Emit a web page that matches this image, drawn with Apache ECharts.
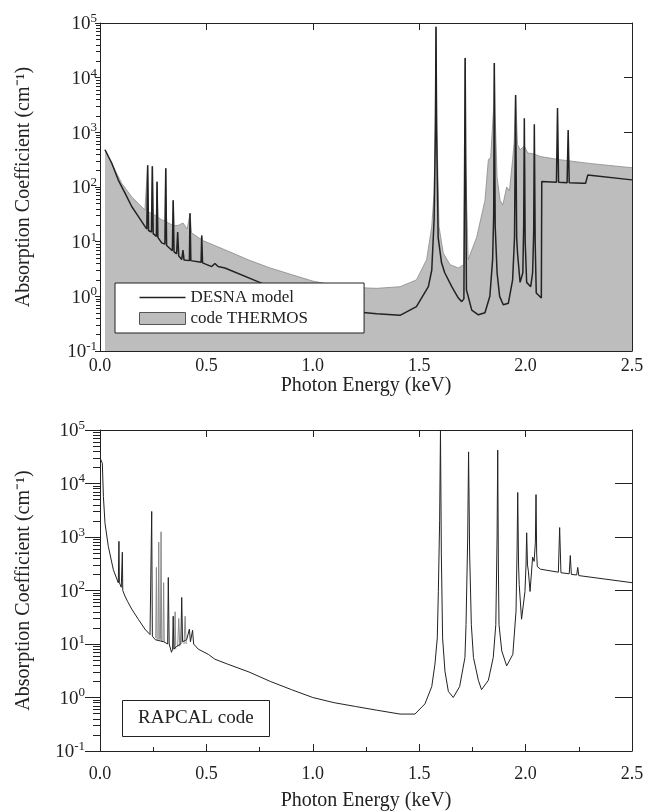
<!DOCTYPE html>
<html>
<head>
<meta charset="utf-8">
<script src="https://cdn.jsdelivr.net/npm/echarts@6/dist/echarts.min.js"></script>
<style>
    html, body { margin: 0; padding: 0; background: #fff; }
    #main { width: 650px; height: 812px; }
</style>
</head>
<body>
<div id="main"></div>
<script>
// top panel, DESNA model (black line)
var desnaE = [0.0235, 0.055, 0.086, 0.117, 0.149, 0.18, 0.211, 0.22, 0.224, 0.228, 0.242, 0.246, 0.25, 0.265, 0.268,
    0.272, 0.29, 0.305, 0.309, 0.313, 0.34, 0.344, 0.348, 0.36, 0.365, 0.37, 0.384, 0.39, 0.395, 0.42, 0.423, 0.427,
    0.475, 0.478, 0.482, 0.525, 0.54, 0.555, 0.587, 0.75, 0.9, 1.0, 1.1, 1.2, 1.3, 1.41, 1.487, 1.543, 1.559, 1.57,
    1.576, 1.579, 1.582, 1.589, 1.605, 1.62, 1.653, 1.684, 1.7, 1.71, 1.716, 1.722, 1.726, 1.747, 1.778, 1.809, 1.832,
    1.845, 1.85, 1.853, 1.857, 1.866, 1.878, 1.895, 1.919, 1.939, 1.948, 1.953, 1.958, 1.962, 1.974, 1.987, 1.991,
    1.994, 1.998, 2.005, 2.024, 2.033, 2.038, 2.041, 2.045, 2.05, 2.074, 2.076, 2.145, 2.15, 2.155, 2.195, 2.2, 2.205,
    2.27, 2.282, 2.292, 2.5];
var desnaK = [480, 275, 134, 78, 44, 29, 19, 17, 250, 16, 15, 240, 14, 12.5, 125,
    12, 9.5, 9, 220, 8.5, 6.8, 57, 6.5, 6, 15, 5.5, 4.7, 7, 4.6, 4.5, 33, 4.5,
    4.2, 13, 4.1, 3.5, 4.0, 3.5, 3.3, 1.8, 1.0, 0.75, 0.6, 0.52, 0.48, 0.45, 0.65, 1.5, 3.0, 25,
    1000, 85000, 1000, 12, 4.1, 2.7, 1.5, 0.93, 0.8, 0.9, 23000, 1.3, 1.15, 0.56, 0.46, 0.5, 1.0,
    4.7, 30, 18500, 20, 2.7, 1.0, 0.7, 0.75, 2.0, 12, 4800, 12, 6.2, 1.8, 2.7, 20,
    1800, 10, 1.8, 1.5, 2.7, 15, 1400, 10, 1.15, 0.93, 126, 122, 2800, 122, 120, 1100, 120,
    117, 117, 165, 135];

// top panel, code THERMOS (grey area)
var thermosE = [0.0235, 0.07, 0.102, 0.149, 0.211, 0.22, 0.224, 0.228, 0.242, 0.246, 0.25, 0.265, 0.268, 0.272, 0.29,
    0.305, 0.309, 0.313, 0.34, 0.344, 0.348, 0.37, 0.39, 0.41, 0.423, 0.43, 0.475, 0.478, 0.482, 0.51, 0.587, 0.7,
    0.8, 0.9, 1.0, 1.1, 1.2, 1.3, 1.41, 1.487, 1.535, 1.559, 1.57, 1.576, 1.579, 1.582, 1.593, 1.613, 1.645, 1.684,
    1.71, 1.714, 1.716, 1.718, 1.73, 1.77, 1.809, 1.825, 1.836, 1.85, 1.853, 1.857, 1.866, 1.88, 1.893, 1.911, 1.924,
    1.939, 1.946, 1.953, 1.962, 1.974, 1.994, 2.01, 2.041, 2.07, 2.16, 2.3, 2.5];
var thermosK = [480, 205, 117, 66, 38, 36, 250, 35, 33, 240, 32, 29, 125, 28, 25,
    24, 220, 23, 20, 57, 19.5, 20, 22, 17, 33, 14.5, 11, 13, 10.5, 9.5, 7.1, 4.6,
    3.3, 2.5, 1.9, 1.6, 1.45, 1.4, 1.5, 2.0, 4.7, 19, 78, 2000, 85000, 2000, 19, 6.2, 3.8, 3.3,
    3.8, 300, 23000, 300, 4.7, 12, 57, 316, 350, 3000, 18500, 2000, 150, 57, 47, 100, 85,
    316, 630, 4800, 600, 480, 560, 420, 400, 360, 316, 270, 225];

// bottom panel, RAPCAL code (black line)
var rapcalE = [0.0, 0.011, 0.016, 0.0235, 0.039, 0.0626, 0.086, 0.088, 0.089, 0.091, 0.1, 0.104, 0.105, 0.107, 0.117,
    0.13, 0.149, 0.18, 0.211, 0.235, 0.24, 0.243, 0.246, 0.26, 0.3, 0.318, 0.321, 0.325, 0.33, 0.336, 0.341, 0.344,
    0.347, 0.36, 0.38, 0.384, 0.388, 0.407, 0.42, 0.425, 0.435, 0.44, 0.462, 0.509, 0.54, 0.6, 0.7, 0.8, 0.9, 1.0,
    1.1, 1.2, 1.3, 1.41, 1.48, 1.527, 1.559, 1.574, 1.585, 1.59, 1.596, 1.6, 1.604, 1.61, 1.621, 1.637, 1.66, 1.69,
    1.715, 1.72, 1.728, 1.732, 1.737, 1.745, 1.755, 1.778, 1.793, 1.825, 1.848, 1.86, 1.866, 1.869, 1.872, 1.875,
    1.888, 1.911, 1.94, 1.955, 1.96, 1.963, 1.967, 1.97, 1.981, 1.997, 2.002, 2.005, 2.009, 2.013, 2.021, 2.033,
    2.04, 2.046, 2.049, 2.052, 2.055, 2.07, 2.154, 2.16, 2.166, 2.205, 2.21, 2.215, 2.24, 2.245, 2.25, 2.5];
var rapcalK = [30000, 24000, 5700, 1800, 670, 245, 139, 150, 830, 140, 115, 110, 520, 100, 79,
    62, 45, 29, 19, 15, 16, 3000, 14, 12, 11, 10, 175, 10, 9.4, 7, 8, 33,
    8, 9, 10, 74, 11, 12, 19, 11, 18, 10, 8, 6.4, 5.2, 4.2, 3.0, 2.0, 1.4, 1.0,
    0.8, 0.68, 0.58, 0.49, 0.49, 0.76, 1.6, 4.2, 13, 96, 2000, 100000, 500, 13, 3.1, 1.3, 1.0, 1.6,
    5.6, 23, 1000, 39000, 500, 23, 5.6, 2.1, 1.4, 2.1, 5.6, 23, 1000, 42000, 300, 23,
    7.4, 3.9, 6.4, 41, 600, 6800, 300, 129, 29, 96, 300, 1200, 300, 230, 96, 420,
    350, 800, 6200, 500, 280, 250, 220, 1500, 215, 205, 450, 200, 195, 270, 190, 140];

// bottom panel, grey lines among the low-energy peaks
var rapcalGreyE = [0.262, 0.265, 0.268, null, 0.273, 0.276, 0.279, null, 0.284, 0.287, 0.29, null, 0.296, 0.299, 0.302,
    null, 0.35, 0.353, 0.356, null, 0.365, 0.37, 0.375, null, 0.395, 0.4, 0.405];
var rapcalGreyK = [13, 270, 12, null, 12, 800, 12, null, 12, 1250, 11, null, 11, 140, 11,
    null, 8, 40, 8, null, 9, 30, 9, null, 10, 33, 10];

var FONT = '"Liberation Serif", "Times New Roman", serif';
var INK = '#222';

function zip(xs, ys) {
    var out = [];
    for (var i = 0; i < xs.length; i++) {
        out.push(xs[i] === null ? [null, '-'] : [xs[i], ys[i]]);
    }
    return out;
}

// 10^n label as rich text, exponent raised
function powLabel(v) {
    var n = Math.round(Math.log(v) / Math.LN10);
    return '{b|10}{s|' + n + '}';
}
var powRich = {
    b: { fontFamily: FONT, fontSize: 19, color: INK, lineHeight: 22, verticalAlign: 'bottom' },
    s: { fontFamily: FONT, fontSize: 13, color: INK, lineHeight: 22, verticalAlign: 'top', padding: [0, 0, 8, 0] }
};

// log minor ticks 2..9 of every decade
var minorVals = [];
for (var d = -1; d < 5; d++) {
    for (var k = 2; k <= 9; k++) minorVals.push(k * Math.pow(10, d));
}

function xAxes(gi, labelMargin, nameGap) {
    return [{
        gridIndex: gi, type: 'value', min: 0, max: 2.5, interval: 0.5,
        name: 'Photon Energy (keV)', nameLocation: 'middle', nameGap: nameGap,
        nameTextStyle: { fontFamily: FONT, fontSize: 20, color: INK },
        axisLine: { onZero: false, lineStyle: { color: INK, width: 1 } },
        axisTick: { inside: true, length: 7, lineStyle: { color: INK } },
        minorTick: { show: true, splitNumber: 2, length: 4, lineStyle: { color: INK } },
        axisLabel: { fontFamily: FONT, fontSize: 18, color: INK, margin: labelMargin,
            formatter: function (v) { return v.toFixed(1); } },
        splitLine: { show: false }
    }, {
        gridIndex: gi, type: 'value', min: 0, max: 2.5, interval: 0.5, position: 'top',
        axisLine: { onZero: false, lineStyle: { color: INK, width: 1 } },
        axisTick: { inside: true, length: 7, lineStyle: { color: INK } },
        axisLabel: { show: false },
        splitLine: { show: false }
    }];
}

function yAxes(gi, majorLen, minorLen, labelMargin, rightLen) {
    return [{
        gridIndex: gi, type: 'log', logBase: 10, min: 0.1, max: 100000, position: 'left',
        name: 'Absorption Coefficient (cm\u207b\u00b9)', nameLocation: 'middle', nameGap: 66, nameRotate: 90,
        nameTextStyle: { fontFamily: FONT, fontSize: 20, color: INK },
        axisLine: { show: true, onZero: false, lineStyle: { color: INK, width: 1 } },
        axisTick: { inside: false, length: majorLen, lineStyle: { color: INK } },
        axisLabel: { margin: labelMargin, formatter: powLabel, rich: powRich },
        splitLine: { show: false }
    }, {
        gridIndex: gi, type: 'log', logBase: 10, min: 0.1, max: 100000, position: 'right',
        axisLine: { show: true, onZero: false, lineStyle: { color: INK, width: 1 } },
        axisTick: { inside: true, length: rightLen, lineStyle: { color: INK } },
        axisLabel: { show: false },
        splitLine: { show: false }
    }, {
        gridIndex: gi, type: 'log', logBase: 10, min: 0.1, max: 100000, position: 'left',
        axisLine: { show: false, onZero: false },
        axisTick: { show: true, inside: false, length: minorLen, customValues: minorVals, lineStyle: { color: INK } },
        axisLabel: { show: false, customValues: minorVals },
        splitLine: { show: false }
    }];
}

var myChart = echarts.init(document.getElementById('main'), null, { renderer: 'canvas' });

var option = {
    backgroundColor: '#fff',
    animation: false,
    textStyle: { fontFamily: FONT },
    grid: [
        { left: 100, right: 18, top: 23, height: 328 },
        { left: 100, right: 18, top: 430, height: 322 }
    ],
    xAxis: xAxes(0, 6, 25).concat(xAxes(1, 14, 40)),
    yAxis: yAxes(0, 5, 4, 3, 8).concat(yAxes(1, 15, 7, 15, 17)),
    legend: {
        left: 115, top: 283,
        orient: 'vertical',
        backgroundColor: '#fff',
        borderColor: INK, borderWidth: 1,
        padding: [6, 56, 6, 24],
        itemGap: 4, itemWidth: 46, itemHeight: 12,
        textStyle: { fontFamily: FONT, fontSize: 17, color: INK },
        data: [
            { name: 'DESNA model', icon: 'path://M0,0 L46,0 L46,1.5 L0,1.5 Z', itemStyle: { color: INK } },
            { name: 'code THERMOS', icon: 'rect', itemStyle: { color: '#bdbdbd', borderColor: '#555', borderWidth: 1 } }
        ]
    },
    title: {
        text: 'RAPCAL code',
        left: 122, top: 700,
        padding: [9, 16, 9, 16],
        borderColor: INK, borderWidth: 1,
        textStyle: { fontFamily: FONT, fontSize: 19, fontWeight: 'normal', color: INK }
    },
    series: [{
        name: 'code THERMOS', type: 'line', xAxisIndex: 0, yAxisIndex: 0,
        data: zip(thermosE, thermosK), symbol: 'none', z: 1,
        lineStyle: { color: '#8a8a8a', width: 0.8 },
        itemStyle: { color: '#bdbdbd' },
        areaStyle: { color: '#bdbdbd', opacity: 1, origin: 'start' }
    }, {
        name: 'DESNA model', type: 'line', xAxisIndex: 0, yAxisIndex: 0,
        data: zip(desnaE, desnaK), symbol: 'none', z: 3,
        lineStyle: { color: INK, width: 1.5 },
        itemStyle: { color: INK }
    }, {
        name: 'RAPCAL', type: 'line', xAxisIndex: 2, yAxisIndex: 3,
        data: zip(rapcalE, rapcalK), symbol: 'none', z: 3,
        lineStyle: { color: INK, width: 1 }
    }, {
        name: 'RAPCAL grey', type: 'line', xAxisIndex: 2, yAxisIndex: 3,
        data: zip(rapcalGreyE, rapcalGreyK), symbol: 'none', z: 2, connectNulls: false,
        lineStyle: { color: '#8a8a8a', width: 1 }
    }]
};

myChart.setOption(option);
</script>
</body>
</html>
